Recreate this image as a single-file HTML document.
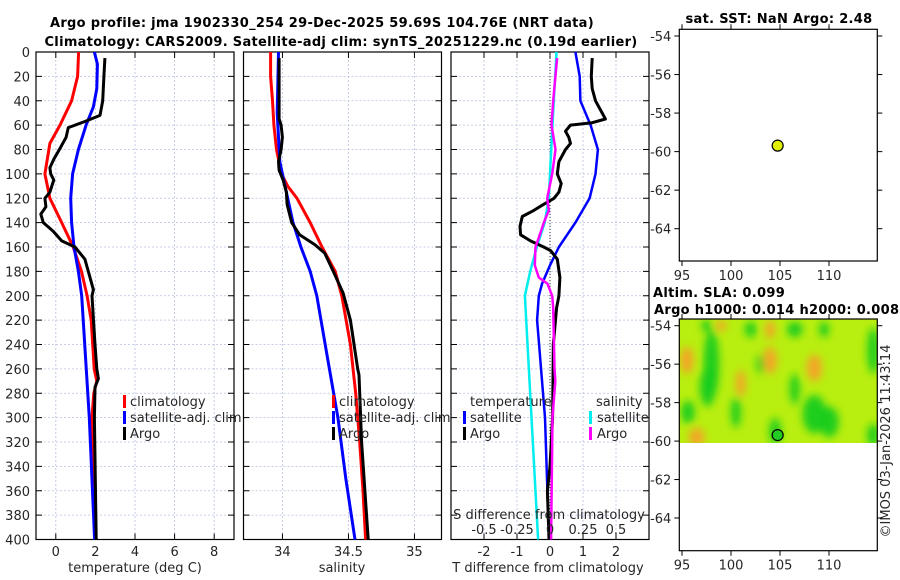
<!DOCTYPE html>
<html><head><meta charset="utf-8"><style>
body{margin:0;background:#fff;}
svg{display:block;font-family:"DejaVu Sans","Liberation Sans",sans-serif;}
.t{font-size:13px;fill:#262626}
.b{font-size:13px;font-weight:bold;fill:#000;letter-spacing:0.3px}
</style></head><body>
<svg id="c" width="900" height="580" viewBox="0 0 900 580">
<defs>
<filter id="bl" x="-50%" y="-50%" width="200%" height="200%"><feGaussianBlur stdDeviation="4"/></filter>
<clipPath id="mclip"><rect x="679.3" y="319" width="198" height="124"/></clipPath>
</defs>
<text class="b" x="322" y="27" text-anchor="middle">Argo profile: jma 1902330_254 29-Dec-2025 59.69S 104.76E (NRT data)</text>
<text class="b" x="341" y="46" text-anchor="middle">Climatology: CARS2009. Satellite-adj clim: synTS_20251229.nc (0.19d earlier)</text>
<text class="b" x="779" y="23" text-anchor="middle">sat. SST: NaN Argo: 2.48</text>
<text class="b" x="719" y="297" text-anchor="middle">Altim. SLA: 0.099</text>
<text class="b" x="654" y="314">Argo h1000: 0.014 h2000: 0.0089</text>
<text class="t" transform="translate(890,441) rotate(-90)" text-anchor="middle">©IMOS 03-Jan-2026 11:43:14</text>
<g id="g"></g>
</svg>
<script>
// ---- data ----
const depthTicks=[0,20,40,60,80,100,120,140,160,180,200,220,240,260,280,300,320,340,360,380,400];
const tempTicks=[0,2,4,6,8];
const salTicks=[34,34.5,35];
const tdiffTicks=[-2,-1,0,1,2];
const sdiffTicks=[-0.5,-0.25,0,0.25,0.5];
const sdiffTickLabels=["-0.5","-0.25","0","0.25","0.5"];

const climTd=[0,20,40,60,75,100,120,140,160,180,200,220,260,270,280,300,340,400];
const climT=[1.15,1.1,0.8,0.21,-0.3,-0.55,-0.3,0.3,0.88,1.3,1.58,1.79,1.94,2.07,1.92,1.83,1.92,1.98];
const satTd=[0,10,30,45,60,80,100,120,140,160,180,200,300,400];
const satT=[1.95,2.1,2.07,1.9,1.53,1.14,0.85,0.75,0.8,0.92,1.14,1.31,1.69,1.96];
const argoTd=[5,20,40,52,57,62,70,80,88,95,100,105,110,115,120,127,133,140,147,155,160,170,180,195,200,240,260,268,275,300,400];
const argoT=[2.48,2.43,2.37,2.23,1.47,0.63,0.52,0.18,-0.1,-0.3,-0.26,-0.1,-0.2,-0.3,-0.55,-0.5,-0.76,-0.63,-0.13,0.3,0.97,1.47,1.64,1.9,1.83,1.98,2.07,2.15,1.98,1.95,2.04];

const climSd=[0,20,40,60,80,100,110,120,140,160,180,200,240,280,320,360,400];
const climS=[33.91,33.91,33.925,33.935,33.955,33.993,34.04,34.11,34.21,34.30,34.40,34.45,34.515,34.555,34.585,34.61,34.63];
const satSd=[0,50,90,100,120,140,160,180,200,250,300,350,400];
const satS=[33.97,33.96,33.98,34.0,34.04,34.08,34.14,34.21,34.26,34.34,34.42,34.48,34.55];
const argoSd=[5,55,60,70,80,90,97,105,115,125,140,150,158,165,180,198,220,260,265,320,400];
const argoS=[33.975,33.975,33.99,34.0,33.99,33.97,33.975,34.005,34.03,34.035,34.07,34.13,34.245,34.32,34.385,34.46,34.515,34.57,34.58,34.6,34.65];

const dSatSd=[0,40,80,120,140,160,180,200,220,300,400];
const dSatS=[0.049,0.029,0.009,-0.009,-0.04,-0.1,-0.15,-0.19,-0.18,-0.14,-0.09];
const dArgoSd=[5,40,60,80,100,120,130,140,150,160,175,185,190,200,210,260,270,300,400];
const dArgoS=[0.054,0.024,0.011,0.042,0.017,-0.021,-0.009,-0.047,-0.077,-0.11,-0.115,-0.085,-0.02,0.017,0.024,0.034,0.04,0.019,0.008];
const dSatTd=[0,20,40,60,80,100,120,140,160,175,190,200,220,300,400];
const dSatT=[0.77,0.9,0.92,1.23,1.45,1.38,1.2,0.77,0.27,0,-0.24,-0.34,-0.39,-0.15,-0.03];
const dArgoTd=[5,20,30,40,50,55,58,60,65,70,75,80,90,100,108,115,120,125,130,135,143,150,155,160,163,170,185,200,210,240,300,340,360,400];
const dArgoT=[1.28,1.25,1.28,1.38,1.58,1.68,1.28,0.62,0.47,0.57,0.62,0.47,0.27,0.22,0.34,0.27,0.12,-0.19,-0.49,-0.84,-0.91,-0.89,-0.59,-0.19,0.02,0.22,0.3,0.27,0.2,0.1,0.08,0,-0.08,-0.03];

const lonTicks=[95,100,105,110];
const latTicks=[-54,-56,-58,-60,-62,-64];
const argoLon=104.76, argoLat=-59.69;
const blobLon=[98,97.6,95.6,108.5,110,106.5,104.5,114.5,114.5,102,106.5,109.5,100.5,97.5,103,104,104,95.5,96.5,108.5,101,99];
const blobLat=[-56,-57.2,-58.5,-58.6,-59,-57.3,-59.5,-55.3,-59.7,-54.2,-54.2,-54.2,-58.5,-54,-56,-55.8,-54.2,-55.8,-59.8,-56.2,-57,-54];
const blobRx=[0.8,0.8,0.7,1.2,1,0.5,0.6,0.6,0.6,0.6,0.8,0.5,0.5,0.5,0.4,0.7,0.5,0.7,0.8,0.8,0.5,0.5];
const blobRy=[1.8,1,0.6,1.0,0.8,0.8,0.7,1.2,0.6,0.4,0.4,0.4,0.8,0.3,0.5,0.7,0.5,0.7,0.5,0.7,0.7,0.3];
const blobKind=["g","g","g","g","g","g","g","g","g","g","g","g","g","g","g","o","o","o","o","o","o","o"];

// ---- drawing ----
const NS="http://www.w3.org/2000/svg", G=document.getElementById('g');
function el(tag,attrs,parent){const e=document.createElementNS(NS,tag);for(const k in attrs)e.setAttribute(k,attrs[k]);(parent||G).appendChild(e);return e;}
const Y0=52,Y1=539.5;
const yD=d=>Y0+(d/400)*(Y1-Y0);
function lin(d0,d1,r0,r1){return v=>r0+(v-d0)/(d1-d0)*(r1-r0);}
const P1={x0:36,x1:234}, P2={x0:243.5,x1:441.5}, P3={x0:451,x1:649};
const xT=lin(-1,9,P1.x0,P1.x1), xS=lin(33.705,35.205,P2.x0,P2.x1), xDT=lin(-3,3,P3.x0,P3.x1), xDS=lin(-0.75,0.75,P3.x0,P3.x1);

function panel(p,name,xticks,xf,labels){
  const g=el('g',{});
  
  
  el('rect',{x:p.x0,y:Y0,width:p.x1-p.x0,height:Y1-Y0,fill:'#fff'},g);
  depthTicks.forEach(d=>{
    const y=yD(d);
    if(d>0&&d<400) el('line',{x1:p.x0,x2:p.x1,y1:y,y2:y,stroke:'#b8c0e0','stroke-width':0.8,'stroke-dasharray':'2,2'},g);
    el('line',{x1:p.x0,x2:p.x0+6,y1:y,y2:y,stroke:'#000'},g);
    el('line',{x1:p.x1-6,x2:p.x1,y1:y,y2:y,stroke:'#000'},g);
  });
  xticks.forEach((v,i)=>{
    const x=xf(v);
    el('line',{x1:x,x2:x,y1:Y0,y2:Y1,stroke:'#b8c0e0','stroke-width':0.8,'stroke-dasharray':'2,2'},g);
    el('line',{x1:x,x2:x,y1:Y1-6,y2:Y1,stroke:'#000'},g);
    el('line',{x1:x,x2:x,y1:Y0,y2:Y0+6,stroke:'#000'},g);
    const t=el('text',{x:x,y:556,class:'t','text-anchor':'middle'},g);t.textContent=labels?labels[i]:String(v);
  });
  el('rect',{x:p.x0,y:Y0,width:p.x1-p.x0,height:Y1-Y0,fill:'none',stroke:'#000','stroke-width':1.2},g);
  return g;
}
function line(xs,ds,xf,color,w,name){
  const pts=xs.map((v,i)=>xf(v).toFixed(1)+','+yD(ds[i]).toFixed(1)).join(' ');
  const e=el('polyline',{points:pts,fill:'none',stroke:color,'stroke-width':w,'stroke-linejoin':'round'});
  
  
}
function txt(x,y,s,name,anchor){const t=el('text',{x:x,y:y,class:'t','text-anchor':anchor||'start'});t.textContent=s;return t;}
function legBar(x,y,color){el('rect',{x:x,y:y-11,width:3,height:13,fill:color});}

depthTicks.forEach(d=>{txt(30,yD(d)+5,String(d),'y-tick-label','end');});

panel(P1,'temperature-panel',tempTicks,xT);
line(climT,climTd,xT,'#ff0000',3,'temperature-climatology-line');
line(satT,satTd,xT,'#0000ff',3,'temperature-satellite-line');
line(argoT,argoTd,xT,'#000000',3,'temperature-argo-line');
txt(135,572,'temperature (deg C)','x-axis-title-temperature','middle');
legBar(123,406,'#ff0000');txt(130,406,'climatology','legend-climatology');
legBar(123,422,'#0000ff');txt(130,422,'satellite-adj. clim','legend-satellite');
legBar(123,438,'#000');txt(130,438,'Argo','legend-argo');

panel(P2,'salinity-panel',salTicks,xS);
line(climS,climSd,xS,'#ff0000',3,'salinity-climatology-line');
line(satS,satSd,xS,'#0000ff',3,'salinity-satellite-line');
line(argoS,argoSd,xS,'#000000',3,'salinity-argo-line');
txt(342,572,'salinity','x-axis-title-salinity','middle');
legBar(332,406,'#ff0000');txt(339,406,'climatology','legend-climatology-2');
legBar(332,422,'#0000ff');txt(339,422,'satellite-adj. clim','legend-satellite-2');
legBar(332,438,'#000');txt(339,438,'Argo','legend-argo-2');

panel(P3,'difference-panel',tdiffTicks,xDT);
el('line',{x1:xDT(0),x2:xDT(0),y1:Y0,y2:Y1,stroke:'#333','stroke-width':1,'stroke-dasharray':'1,2'});
line(dSatS,dSatSd,xDS,'#00eeee',2.5,'sdiff-satellite-line');
line(dSatT,dSatTd,xDT,'#0000ff',2.5,'tdiff-satellite-line');
line(dArgoT,dArgoTd,xDT,'#000000',3,'tdiff-argo-line');
line(dArgoS,dArgoSd,xDS,'#ff00ff',2.5,'sdiff-argo-line');
txt(548,572,'T difference from climatology','x-axis-title-tdiff','middle');
txt(549,519,'S difference from climatology','top-axis-title-sdiff','middle');
sdiffTicks.forEach((v,i)=>{txt(xDS(v),534,sdiffTickLabels[i],'sdiff-tick-label','middle');});
txt(470,406,'temperature','legend-title-temperature');
legBar(463,422,'#0000ff');txt(470,422,'satellite','legend-tdiff-satellite');
legBar(463,438,'#000');txt(470,438,'Argo','legend-tdiff-argo');
txt(596,406,'salinity','legend-title-salinity');
legBar(589,422,'#00eeee');txt(597,422,'satellite','legend-sdiff-satellite');
legBar(589,438,'#ff00ff');txt(597,438,'Argo','legend-sdiff-argo');

function mapAxes(top,bot,latAt54,latScale,name,fillFn,dotColor){
  const g=el('g',{});
  
  
  const L=679.3,R=877.3;
  const xL=lin(95,110,682,829);
  const yL=lat=>latAt54+(-54-lat)*latScale;
  el('rect',{x:L,y:top,width:R-L,height:bot-top,fill:'#fff'},g);
  if(fillFn) fillFn(g,xL,yL);
  lonTicks.forEach(v=>{const x=xL(v);el('line',{x1:x,x2:x,y1:bot,y2:bot+5,stroke:'#000'},g);el('line',{x1:x,x2:x,y1:top-5,y2:top,stroke:'#000'},g);
    const t=el('text',{x:x,y:bot+19,class:'t','text-anchor':'middle'},g);t.textContent=String(v);});
  latTicks.forEach(v=>{const y=yL(v);el('line',{x1:L-5,x2:L,y1:y,y2:y,stroke:'#000'},g);el('line',{x1:R,x2:R+5,y1:y,y2:y,stroke:'#000'},g);
    const t=el('text',{x:L-8,y:y+5,class:'t','text-anchor':'end'},g);t.textContent=String(v);});
  el('rect',{x:L,y:top,width:R-L,height:bot-top,fill:'none',stroke:'#000','stroke-width':1.2},g);
  const c=el('circle',{cx:xL(argoLon),cy:yL(argoLat),r:5.5,fill:dotColor,stroke:'#000','stroke-width':1.2},g);
  
  
}
mapAxes(29.3,261,36,19.27,'sst-map',null,'#e0f000');
mapAxes(319,550.7,325.7,19.23,'sla-map',(g,xL,yL)=>{
  const cg=el('g',{'clip-path':'url(#mclip)'},g);
  el('rect',{x:679.3,y:319,width:198,height:124,fill:'#b8ee10'},cg);
  const bg=el('g',{filter:'url(#bl)'},cg);
  blobLon.forEach((lon,i)=>{
    const e=el('ellipse',{cx:xL(lon),cy:yL(blobLat[i]),rx:blobRx[i]*9.8,ry:blobRy[i]*19.2,fill:blobKind[i]=='g'?'#18cc20':'#f4a428','fill-opacity':0.95},bg);
    
    
  });
},'#22cc22');
</script>
</body></html>
